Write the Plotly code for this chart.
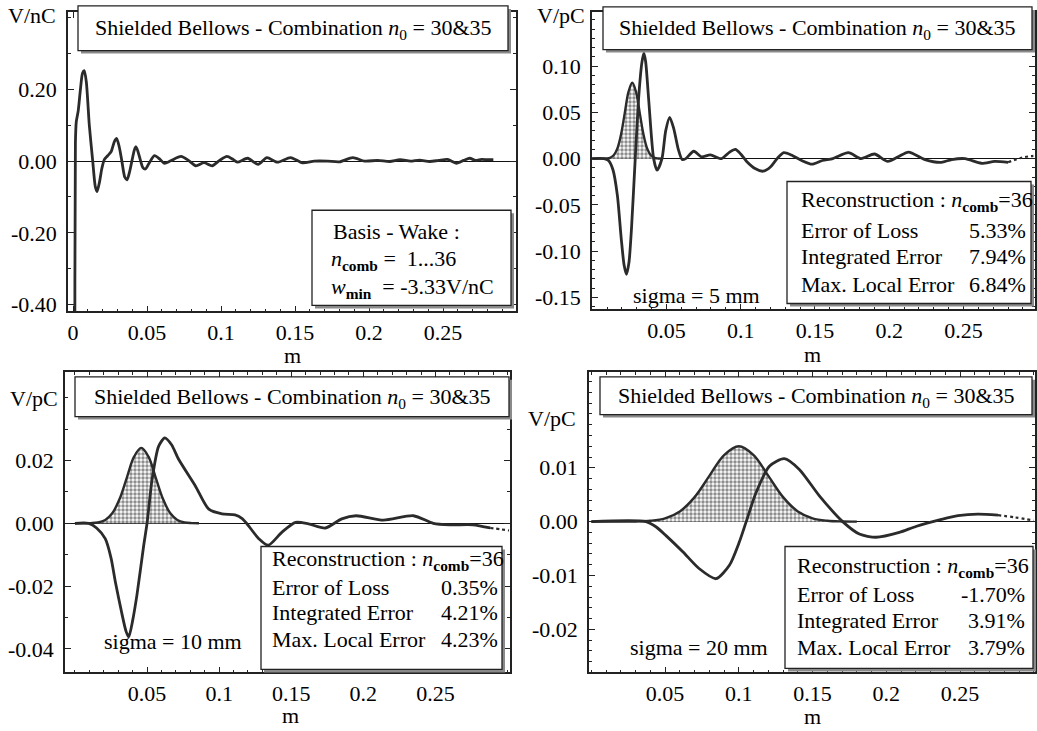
import plotly.graph_objects as go

W, H = 1037, 731
FONT = "Liberation Serif, Times New Roman, Times, serif"
INK = "#2b2b2b"

# ---------------- data ----------------
# Basis wake (V/nC), top-left
wake_basis_x = [0.0008, 0.0012, 0.0016, 0.0022, 0.0035, 0.0050, 0.0064, 0.0076, 0.0090, 0.0110,
                0.0133, 0.0150, 0.0162, 0.0178, 0.0195, 0.0212, 0.0234, 0.0257, 0.0280, 0.0295,
                0.0312, 0.0330, 0.0350, 0.0365, 0.0382, 0.0400, 0.0415, 0.0426, 0.0440, 0.0457,
                0.0472, 0.0489, 0.0515, 0.0550, 0.0585, 0.0617, 0.0660, 0.0730, 0.0780, 0.0830,
                0.0885, 0.0940, 0.0990, 0.1040, 0.1080, 0.1110, 0.1180, 0.1250, 0.1310, 0.1380,
                0.1470, 0.1550, 0.1630, 0.1720, 0.1800, 0.1890, 0.1970, 0.2060, 0.2140, 0.2210,
                0.2280, 0.2340, 0.2410, 0.2470, 0.2530, 0.2590, 0.2640, 0.2680, 0.2720, 0.2760,
                0.2800, 0.2840]
wake_basis_y = [-3.33, -0.6, 0.05, 0.11, 0.14, 0.20, 0.245, 0.252, 0.22, 0.10,
                0.0, -0.07, -0.085, -0.06, -0.02, 0.005, 0.015, 0.026, 0.055, 0.063,
                0.04, 0.0, -0.045, -0.052, -0.03, 0.005, 0.032, 0.040, 0.025, 0.0,
                -0.018, -0.022, -0.005, 0.015, 0.006, -0.006, 0.001, 0.013, 0.002, -0.013,
                -0.004, -0.013, 0.002, 0.013, 0.005, -0.003, 0.008, -0.009, 0.010, -0.003,
                0.010, -0.005, 0.0, 0.0, -0.002, 0.010, 0.0, 0.002, -0.001, 0.004,
                0.0, 0.003, -0.001, 0.002, 0.005, -0.006, 0.002, 0.008, 0.002, 0.005,
                0.004, 0.004]

# sigma = 5 mm
bunch5_x = [0.0, 0.0070, 0.0095, 0.0120, 0.0145, 0.0170, 0.0195, 0.0220, 0.0245, 0.0270,
            0.0295, 0.0320, 0.0345, 0.0370, 0.0395, 0.0420, 0.0445, 0.0470]
bunch5_y = [0.0, 0.0, 0.0002, 0.0009, 0.0036, 0.0111, 0.0266, 0.0497, 0.0724, 0.0820,
            0.0724, 0.0497, 0.0266, 0.0111, 0.0036, 0.0009, 0.0002, 0.0]
wake5_x = [0.0, 0.008, 0.011, 0.014, 0.017, 0.0195, 0.0215, 0.0231, 0.0248, 0.0265,
           0.029, 0.0315, 0.0335, 0.0348, 0.036, 0.038, 0.0414, 0.0437, 0.047, 0.0495,
           0.0522, 0.055, 0.058, 0.0606, 0.063, 0.0684, 0.0735, 0.0796, 0.087, 0.0925,
           0.0964, 0.100, 0.104, 0.110, 0.115, 0.120, 0.125, 0.129, 0.134, 0.141,
           0.148, 0.155, 0.162, 0.1725, 0.181, 0.190, 0.199, 0.206, 0.213, 0.224,
           0.235, 0.242, 0.251, 0.262, 0.271, 0.280]
wake5_y = [0.0, 0.0, -0.002, -0.012, -0.040, -0.085, -0.115, -0.125, -0.112, -0.075,
           0.0, 0.070, 0.104, 0.114, 0.105, 0.065, 0.0, -0.0125, 0.0, 0.030,
           0.0447, 0.032, 0.010, -0.001, 0.0, 0.008, 0.002, 0.004, 0.0, 0.007,
           0.010, 0.005, -0.003, -0.011, -0.0136, -0.009, 0.001, 0.0064, 0.004, -0.002,
           -0.006, -0.002, 0.0, 0.0064, 0.0, 0.005, -0.003, 0.002, 0.007, -0.001,
           -0.004, -0.001, 0.0, -0.005, -0.003, -0.004]
tail5_x = [0.280, 0.289, 0.297]
tail5_y = [-0.004, 0.001, 0.003]

# sigma = 10 mm
bunch10_x = [0.0, 0.006, 0.011, 0.016, 0.021, 0.026, 0.031, 0.036, 0.041, 0.046,
             0.051, 0.056, 0.061, 0.066, 0.071, 0.076, 0.081, 0.086]
bunch10_y = [0.0, 0.0, 0.00005, 0.00027, 0.00105, 0.00325, 0.00779, 0.01456, 0.0212, 0.024,
             0.0212, 0.01456, 0.00779, 0.00325, 0.00105, 0.00027, 0.00005, 0.0]
wake10_x = [0.0, 0.0096, 0.015, 0.021, 0.025, 0.028, 0.0327, 0.0355, 0.0373, 0.040,
            0.043, 0.0477, 0.050, 0.0535, 0.058, 0.0623, 0.067, 0.072, 0.0835, 0.0928,
            0.102, 0.111, 0.116, 0.119, 0.1275, 0.134, 0.1436, 0.153, 0.162, 0.1737,
            0.185, 0.195, 0.214, 0.2347, 0.2485, 0.260, 0.276, 0.288]
wake10_y = [0.0, 0.0, -0.0015, -0.0049, -0.011, -0.0186, -0.0291, -0.0345, -0.0362, -0.031,
            -0.0228, -0.007, 0.0, 0.014, 0.0245, 0.0272, 0.025, 0.0203, 0.0119, 0.0045,
            0.003, 0.0027, 0.0015, 0.0, -0.0049, -0.007, -0.0028, 0.0003, -0.0002, -0.0015,
            0.0014, 0.0024, 0.001, 0.0024, 0.0, -0.0005, -0.0005, -0.0015]
tail10_x = [0.288, 0.295, 0.301]
tail10_y = [-0.0015, -0.0019, -0.0023]

# sigma = 20 mm
bunch20_x = [0.0, 0.020, 0.030, 0.040, 0.050, 0.060, 0.070, 0.080, 0.090, 0.100,
             0.110, 0.120, 0.130, 0.140, 0.150, 0.160, 0.170, 0.180]
bunch20_y = [0.0, 0.0, 0.00003, 0.00016, 0.00061, 0.00189, 0.00455, 0.00849, 0.01236, 0.014,
             0.01236, 0.00849, 0.00455, 0.00189, 0.00061, 0.00016, 0.00003, 0.0]
wake20_x = [0.0, 0.037, 0.044, 0.0506, 0.062, 0.073, 0.0845, 0.0936, 0.1003, 0.105,
            0.1117, 0.1207, 0.1308, 0.141, 0.1546, 0.1704, 0.1817, 0.193, 0.2088, 0.220,
            0.2373, 0.2486, 0.262, 0.2757]
wake20_y = [0.0, 0.0, -0.001, -0.0026, -0.0056, -0.0087, -0.0106, -0.0081, -0.0038, 0.0,
            0.0054, 0.0103, 0.0117, 0.0097, 0.0048, 0.0, -0.0023, -0.0029, -0.002, -0.0009,
            0.0004, 0.0011, 0.0014, 0.0012]
tail20_x = [0.2757, 0.287, 0.300]
tail20_y = [0.0012, 0.0008, 0.0002]

# tick labels
x_ticks_first = [0, 0.05, 0.1, 0.15, 0.2, 0.25]
x_ticktext_first = ["0", "0.05", "0.1", "0.15", "0.2", "0.25"]
x_ticks = [0.05, 0.1, 0.15, 0.2, 0.25]
x_ticktext = ["0.05", "0.1", "0.15", "0.2", "0.25"]
y_ticks_basis = [0.2, 0.0, -0.2, -0.4]
y_ticktext_basis = ["0.20", "0.00", "-0.20", "-0.40"]
y_ticks_5 = [0.10, 0.05, 0.0, -0.05, -0.10, -0.15]
y_ticktext_5 = ["0.10", "0.05", "0.00", "-0.05", "-0.10", "-0.15"]
y_ticks_10 = [0.02, 0.0, -0.02, -0.04]
y_ticktext_10 = ["0.02", "0.00", "-0.02", "-0.04"]
y_ticks_20 = [0.01, 0.0, -0.01, -0.02]
y_ticktext_20 = ["0.01", "0.00", "-0.01", "-0.02"]

title_text = "Shielded Bellows - Combination <i>n</i><sub>0</sub> = 30&amp;35"
ncomb = "<i>n</i><sub><b>comb</b></sub>"
stats_5 = [("Error of Loss", "5.33%"), ("Integrated Error", "7.94%"), ("Max. Local Error", "6.84%")]
stats_10 = [("Error of Loss", "0.35%"), ("Integrated Error", "4.21%"), ("Max. Local Error", "4.23%")]
stats_20 = [("Error of Loss", "-1.70%"), ("Integrated Error", "3.91%"), ("Max. Local Error", "3.79%")]

FS = 22


# ---------------- helpers ----------------
def fx(px):
    return px / W


def fy(py):
    return 1 - py / H


fig = go.Figure()
shapes = []
annotations = []


def text(px, py, s, anchor="center", size=FS):
    annotations.append(dict(x=fx(px), y=fy(py), xref="paper", yref="paper", text=s,
                            showarrow=False, xanchor=anchor, yanchor="middle",
                            font=dict(family=FONT, size=size, color="black")))


def shadow_box(x0, y0, x1, y1, off=3):
    shapes.append(dict(type="rect", xref="paper", yref="paper", layer="above",
                       x0=fx(x0 + off), x1=fx(x1 + off), y0=fy(y1 + off), y1=fy(y0 + off),
                       line=dict(width=0), fillcolor="#8a8a8a"))
    shapes.append(dict(type="rect", xref="paper", yref="paper", layer="above",
                       x0=fx(x0), x1=fx(x1), y0=fy(y1), y1=fy(y0),
                       line=dict(width=1.3, color="#222"), fillcolor="white"))


def add_axes(i, dom_px, xr, yr, xt, xtt, yt, ytt, yminor):
    left, top, right, bottom = dom_px
    sfx = "" if i == 1 else str(i)
    common = dict(showline=True, linecolor="#222", linewidth=1.6, mirror="allticks",
                  ticks="inside", ticklen=6, tickwidth=1, tickcolor="#222",
                  showgrid=False,
                  tickfont=dict(family=FONT, size=FS, color="black"))
    fig.update_layout(**{
        "xaxis" + sfx: dict(domain=[fx(left), fx(right)], range=xr, anchor="y" + sfx,
                            tickvals=xt, ticktext=xtt, zeroline=False, ticklabelstandoff=0,
                            minor=dict(dtick=0.01, tick0=0, ticks="inside", ticklen=3,
                                       tickcolor="#222", tickwidth=1),
                            **common),
        "yaxis" + sfx: dict(domain=[fy(bottom), fy(top)], range=yr, anchor="x" + sfx,
                            tickvals=yt, ticktext=ytt, zeroline=True, ticklabelstandoff=5,
                            zerolinecolor="#111", zerolinewidth=1.2,
                            minor=dict(dtick=yminor, tick0=0, ticks="inside", ticklen=3,
                                       tickcolor="#222", tickwidth=1),
                            **common),
    })


def add_curves(i, bx, by, wx, wy, tx=None, ty=None):
    sfx = "" if i == 1 else str(i)
    ax = dict(xaxis="x" + sfx, yaxis="y" + sfx)
    if bx is not None:
        fig.add_trace(go.Scatter(x=bx, y=by, mode="lines", line=dict(color=INK, width=2.4, shape="spline"),
                                 fill="tozeroy", fillcolor="rgba(0,0,0,0)",
                                 fillpattern=dict(shape=".", size=4, solidity=0.6,
                                                  fgcolor="#1a1a1a", bgcolor="white"),
                                 showlegend=False, hoverinfo="skip", **ax))
    fig.add_trace(go.Scatter(x=wx, y=wy, mode="lines",
                             line=dict(color=INK, width=2.8, shape="spline", smoothing=0.7),
                             showlegend=False, hoverinfo="skip", **ax))
    if tx is not None:
        fig.add_trace(go.Scatter(x=tx, y=ty, mode="lines",
                                 line=dict(color=INK, width=2.2, dash="3px,3px", shape="spline"),
                                 showlegend=False, hoverinfo="skip", **ax))


# ---------------- panels ----------------
add_axes(1, (68, 12, 516, 314), [-0.0034, 0.2993], [-0.419, 0.416],
         x_ticks_first, x_ticktext_first, y_ticks_basis, y_ticktext_basis, 0.1)
add_axes(2, (592, 12, 1035, 312), [-0.0001, 0.2981], [-0.163, 0.1586],
         x_ticks, x_ticktext, y_ticks_5, y_ticktext_5, 0.01)
add_axes(3, (65, 375, 510, 678), [-0.0069, 0.3017], [-0.0475, 0.0482],
         x_ticks, x_ticktext, y_ticks_10, y_ticktext_10, 0.01)
add_axes(4, (589, 375, 1035, 678), [-0.0016, 0.3008], [-0.0280, 0.0278],
         x_ticks, x_ticktext, y_ticks_20, y_ticktext_20, 0.002)

add_curves(1, None, None, wake_basis_x, wake_basis_y)
add_curves(2, bunch5_x, bunch5_y, wake5_x, wake5_y, tail5_x, tail5_y)
add_curves(3, bunch10_x, bunch10_y, wake10_x, wake10_y, tail10_x, tail10_y)
add_curves(4, bunch20_x, bunch20_y, wake20_x, wake20_y, tail20_x, tail20_y)

# title boxes
for (x0, y0, x1, y1) in [(78, 6, 508, 51), (603, 7, 1032, 50), (75, 380, 509, 420), (600, 380, 1032, 418)]:
    shadow_box(x0, y0, x1, y1)
    text((x0 + x1) / 2, (y0 + y1) / 2 + 1, title_text)

# unit labels
text(58, 16, "V/nC", "right")
text(587, 16, "V/pC", "right")
text(60, 402, "V/pC", "right")
text(578, 422, "V/pC", "right")

# axis titles
text(292, 358, "m")
text(812, 357, "m")
text(290, 721, "m")
text(812, 722, "m")

# basis legend
shadow_box(312, 212, 511, 308)
text(331, 233, "Basis - Wake :", "left")
text(329, 262, ncomb + " =  1...36", "left")
text(329, 290, "<i>w</i><sub><b>min</b></sub>  = -3.33V/nC", "left")


def stats_box(box, lx, rx, rows_y, stats):
    shadow_box(*box)
    text(lx, rows_y[0], "Reconstruction : " + ncomb + "=36", "left")
    for (lab, val), yy in zip(stats, rows_y[1:]):
        text(lx, yy, lab, "left")
        text(rx, yy, val, "right")


stats_box((787, 183, 1031, 306), 799, 1028, [203, 232, 259, 287], stats_5)
stats_box((261, 551, 502, 675), 270, 500, [565, 592, 618, 645], stats_10)
stats_box((785, 551, 1033, 674), 795, 1027, [572, 599, 626, 653], stats_20)

text(696, 298, "sigma = 5 mm")
text(173, 647, "sigma = 10 mm")
text(699, 653, "sigma = 20 mm")

fig.update_layout(width=W, height=H, margin=dict(l=0, r=0, t=0, b=0),
                  paper_bgcolor="white", plot_bgcolor="white",
                  shapes=shapes, annotations=annotations, showlegend=False)

fig.write_html("out.html")
